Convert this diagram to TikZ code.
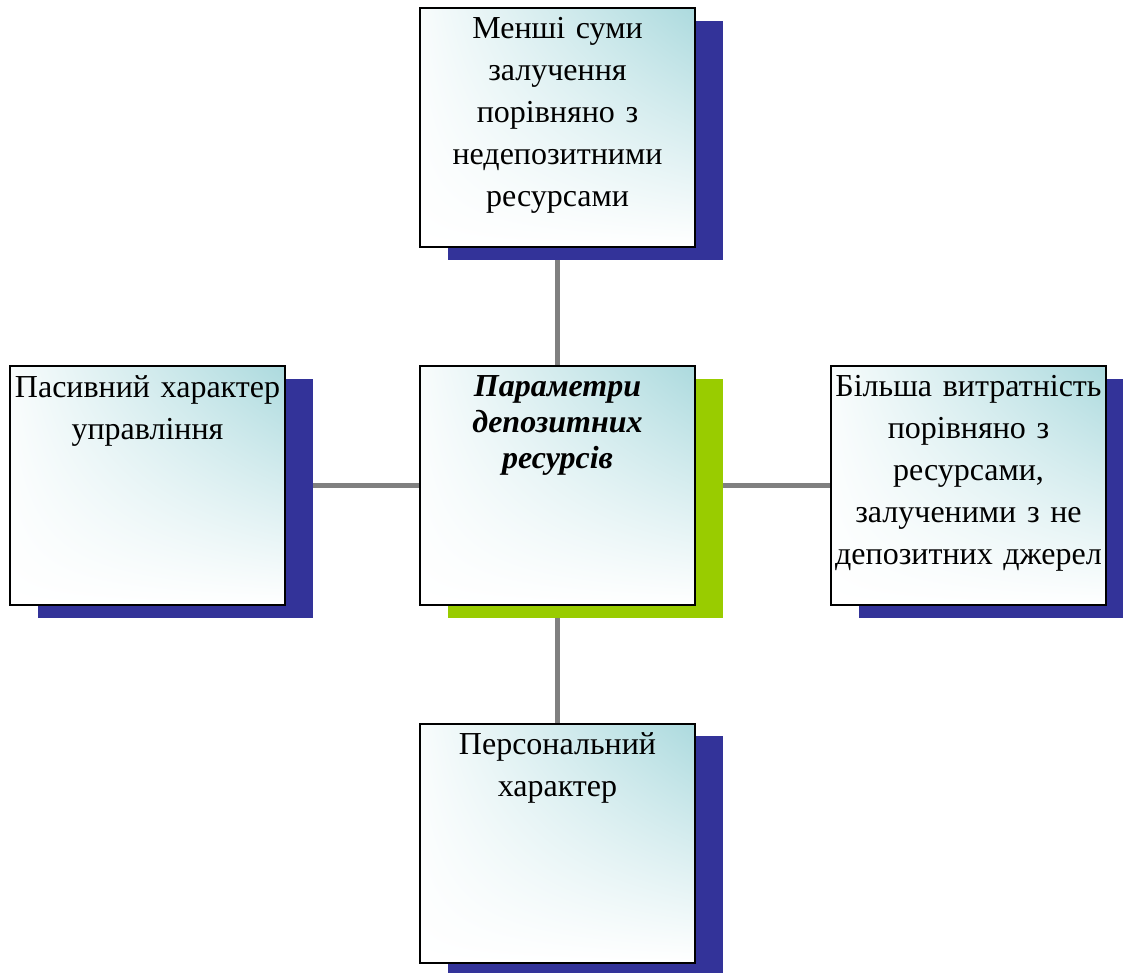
\documentclass[tikz,border=0pt]{standalone}
\usepackage{fontspec}
\setmainfont{Liberation Serif}
\usetikzlibrary{shadows,shadings}
\pgfdeclarelayer{background}
\pgfsetlayers{background,main}
\definecolor{navyshadow}{RGB}{51,51,153}
\definecolor{limeshadow}{RGB}{153,204,0}
\definecolor{tealtint}{RGB}{172,218,222}
\definecolor{linkgray}{RGB}{128,128,128}
\tikzset{
  card/.style={draw=black, line width=2pt, minimum width=275pt, minimum height=239pt,
    inner sep=0pt, outer sep=0pt,
    upper right=tealtint, upper left=white!92!tealtint, lower left=white, lower right=white,
    drop shadow={shadow xshift=27.5pt, shadow yshift=-12.5pt, fill=#1, opacity=1}},
  card/.default=navyshadow,
  cardtext/.style={anchor=north, align=center, text width=285pt, inner sep=0pt, yshift=-9pt,
    font=\fontsize{32}{42}\selectfont},
  link/.style={draw=linkgray, line width=5pt}
}
\begin{document}
\begin{tikzpicture}[x=1pt, y=-1pt]
  \useasboundingbox (0,0) rectangle (1123,972);
  % boxes
  \node[card=limeshadow] (mid) at (557.5,485.5) {};
  \node[card] (up) at (557.5,127.5) {};
  \node[card] (lft) at (147.5,485.5) {};
  \node[card] (rgt) at (968.5,485.5) {};
  \node[card] (dwn) at (557.5,843) {};
  % captions
  \node[cardtext, font=\fontsize{32}{36}\selectfont\bfseries\itshape] (midt) at (mid.north) {Параметри\\депозитних\\ресурсів};
  \node[cardtext] (upt) at (up.north) {Менші суми\\залучення\\порівняно з\\недепозитними\\ресурсами};
  \node[cardtext] (lftt) at (lft.north) {Пасивний характер\\управління};
  \node[cardtext] (rgtt) at (rgt.north) {Більша витратність\\порівняно з\\ресурсами,\\залученими з не\\депозитних джерел};
  \node[cardtext] (dwnt) at (dwn.north) {Персональний\\характер};
  % connectors
  \begin{pgfonlayer}{background}
    \draw[link] (mid.center) -- (up.center);
    \draw[link] (mid.center) -- (dwn.center);
    \draw[link] (mid.center) -- (lft.center);
    \draw[link] (mid.center) -- (rgt.center);
  \end{pgfonlayer}
\end{tikzpicture}
\end{document}
